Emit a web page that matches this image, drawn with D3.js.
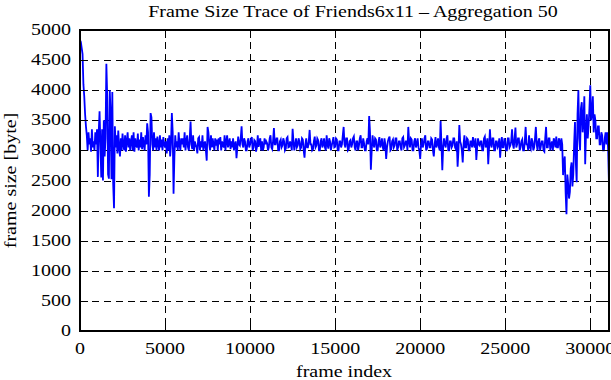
<!DOCTYPE html>
<html>
<head>
<meta charset="utf-8">
<script src="https://cdn.jsdelivr.net/npm/d3@7"></script>
<style>
  body { margin: 0; background: #fff; }
  text { font-family: "Liberation Serif", "Times New Roman", serif; fill: #000; font-size: 16px; }
</style>
</head>
<body>
<svg id="chart" width="611" height="380"></svg>
<script>
// chart text and ticks
var title = "Frame Size Trace of Friends6x11 \u2013 Aggregation 50",
    xLabel = "frame index",
    yLabel = "frame size [byte]",
    xTicks = [0, 5000, 10000, 15000, 20000, 25000, 30000],
    yTicks = [0, 500, 1000, 1500, 2000, 2500, 3000, 3500, 4000, 4500, 5000],
    xMax = 31100,
    yMax = 5000;

// frame size, one value per 50 frames, 1000 frames a row
var frameStep = 50;
var frameSize = [
    4830, 4800, 4700, 4600, 4100, 3900, 3600, 3400, 3250, 3000, 3300, 3100, 3200, 2980, 3350, 3050, 3150, 3000, 3300, 3100,
    3350, 2560, 3300, 3650, 3100, 2550, 3350, 2500, 3500, 2900, 3200, 4440, 3900, 2600, 2530, 4000, 3600, 2520, 3970, 2450,
    2040, 3400, 3050, 3250, 2950, 3330, 3050, 2900, 3200, 3000, 3280, 3100, 3000, 3250, 2980, 3150, 3300, 3050, 3200, 3000,
    3150, 3250, 3000, 3300, 2980, 3200, 3100, 3050, 3280, 3000, 3180, 3050, 3300, 3020, 3220, 3100, 3000, 3250, 3100, 3450,
    3300, 2230, 2600, 3620, 3550, 3100, 3000, 3300, 3050, 3200, 3000, 3230, 3100, 3000, 3250, 3050, 3180, 3000, 3220, 3100,
    3050, 3150, 2950, 3200, 3000, 3250, 2900, 3100, 3620, 3300, 2280, 2900, 3250, 3050, 3150, 3000, 3300, 3100, 3000, 3200,
    3100, 3200, 3050, 3300, 3000, 3150, 3250, 3050, 3000, 3200, 3480, 3100, 3020, 3250, 3000, 3150, 3100, 3050, 2950, 3200,
    3220, 3000, 3150, 3050, 3250, 3000, 3100, 3150, 3000, 2830, 3390, 3300, 3100, 3000, 3250, 3050, 3200, 3100, 3000, 3200,
    3080, 3180, 3000, 3200, 3100, 3220, 3000, 3150, 3100, 3050, 3250, 3000, 3150, 3250, 3050, 3120, 3200, 3020, 3150, 3050,
    3200, 3000, 3100, 3150, 2870, 3050, 3230, 3100, 3080, 3200, 3400, 3100, 3050, 3200, 3150, 3000, 3000, 3150, 3200, 3050,
    3100, 3180, 3220, 3000, 3050, 3170, 3150, 2980, 3050, 3250, 3060, 3150, 3200, 3000, 3150, 3000, 3050, 3200, 3100, 3150,
    3120, 3000, 3050, 3200, 3250, 3050, 3020, 3150, 3370, 3100, 3100, 3200, 3200, 3000, 3000, 3150, 3180, 3050, 3080, 3200,
    3150, 3000, 3030, 3200, 3220, 3050, 3060, 3150, 3100, 3000, 3360, 3150, 3000, 3100, 3200, 3050, 3080, 3200, 3150, 3020,
    3050, 3200, 3180, 3000, 2880, 3100, 3200, 3050, 3050, 3150, 3340, 3100, 3100, 3000, 3020, 3150, 3230, 3050, 3080, 3200,
    3170, 3000, 3000, 3150, 3200, 3050, 3100, 3200, 3050, 3000, 3250, 3100, 3030, 3200, 3150, 3000, 3080, 3150, 3220, 3050,
    3060, 3200, 3180, 3000, 3000, 3150, 3150, 3050, 3100, 3250, 3390, 3100, 3050, 3200, 3200, 3000, 3020, 3150, 3170, 3050,
    3100, 3200, 3230, 3050, 3000, 3150, 3150, 3000, 3080, 3200, 3250, 3050, 3050, 3200, 3120, 3000, 3000, 3150, 3200, 3100,
    3570, 3300, 2680, 3000, 3250, 3100, 3050, 3200, 3180, 3000, 3000, 3150, 3220, 3050, 3100, 3200, 3050, 3000, 3200, 3100,
    2860, 3050, 3150, 3200, 3230, 3000, 3020, 3150, 3180, 3050, 3080, 3200, 3200, 3000, 3050, 3150, 3150, 3050, 3000, 3200,
    3220, 3050, 3080, 3150, 3150, 3000, 3390, 3150, 3050, 3200, 3180, 3000, 3000, 3150, 3200, 3050, 3100, 3200, 3050, 3000,
    2860, 3100, 3200, 3050, 3100, 3200, 3250, 3000, 3030, 3150, 3150, 3050, 3050, 3200, 3180, 3000, 2900, 3100, 3220, 3050,
    3100, 3200, 3050, 3000, 3490, 3100, 2670, 3050, 3200, 3100, 3050, 3200, 3250, 3000, 3000, 3150, 3150, 3050, 3080, 3200,
    3200, 3050, 3020, 3150, 2730, 3000, 3420, 3150, 3100, 3000, 2800, 3100, 3250, 3050, 3050, 3200, 3180, 3000, 3000, 3150,
    3150, 3050, 3220, 3100, 3050, 3200, 2840, 3050, 3200, 3100, 3080, 3150, 3150, 3000, 3000, 3200, 3230, 3050, 3100, 3200,
    2770, 3050, 3350, 3100, 3050, 3200, 3200, 3000, 3000, 3150, 3150, 3050, 3080, 3200, 2880, 3100, 3220, 3050, 3050, 3200,
    3150, 3000, 3000, 3200, 3200, 3050, 3080, 3150, 3350, 3100, 3030, 3200, 3380, 3050, 3100, 3200, 3200, 3000, 3050, 3150,
    3180, 3000, 3000, 3150, 3390, 3100, 3100, 3000, 3250, 3050, 3020, 3200, 3150, 3000, 3050, 3200, 3390, 3100, 3000, 3150,
    3200, 3000, 3080, 3150, 3150, 3000, 2980, 3200, 3390, 3050, 3050, 3200, 3200, 3000, 3100, 3150, 3000, 3200, 3150, 3050,
    3230, 3050, 3050, 3200, 3150, 3000, 3200, 3100, 2590, 2800, 2900, 2300, 1940, 2600, 2450, 2200, 2310, 2700, 2800, 2400,
    2600, 3100, 3470, 2800, 2470, 3600, 4000, 3200, 3000, 3700, 3800, 3300, 3500, 3900, 2770, 3300, 3600, 3200, 3400, 3700,
    4080, 3500, 3600, 3900, 3300, 3600, 3500, 3200, 3200, 3400, 3400, 3100, 3100, 3300, 3250, 3000, 3000, 3200, 3300, 3100,
    3300, 3000, 2420
];

var svg = d3.select("#chart"),
    plotLeft = 80, plotRight = 609, plotTop = 30, plotBottom = 331,
    tickLen = 8,
    stretch = 1.25;   // the reference type is set wide

var x = d3.scaleLinear().domain([0, xMax]).range([plotLeft, plotRight]),
    y = d3.scaleLinear().domain([0, yMax]).range([plotBottom, plotTop]);

// grid
var grid = svg.append("g")
    .attr("stroke", "#000")
    .attr("stroke-width", 1)
    .attr("stroke-dasharray", "7,5");
grid.selectAll(".gx")
    .data(xTicks.filter(function(t) { return t > 0; }))
    .enter().append("line")
    .attr("x1", function(d) { return Math.round(x(d)) + 0.5; })
    .attr("x2", function(d) { return Math.round(x(d)) + 0.5; })
    .attr("y1", plotTop).attr("y2", plotBottom);
grid.selectAll(".gy")
    .data(yTicks.filter(function(t) { return t > 0 && t < yMax; }))
    .enter().append("line")
    .attr("y1", function(d) { return Math.round(y(d)) + 0.5; })
    .attr("y2", function(d) { return Math.round(y(d)) + 0.5; })
    .attr("x1", plotLeft).attr("x2", plotRight);

// the trace
svg.append("clipPath").attr("id", "plot-clip")
    .append("rect")
    .attr("x", plotLeft).attr("y", plotTop)
    .attr("width", plotRight - plotLeft).attr("height", plotBottom - plotTop);

var line = d3.line()
    .x(function(d, i) { return x(i * frameStep); })
    .y(function(d) { return y(d); });

svg.append("path")
    .datum(frameSize)
    .attr("clip-path", "url(#plot-clip)")
    .attr("fill", "none")
    .attr("stroke", "#0000ff")
    .attr("stroke-width", 1.8)
    .attr("d", line);

// inward ticks on all four sides
var ticks = svg.append("g").attr("stroke", "#000").attr("stroke-width", 1);
xTicks.forEach(function(t) {
    var px = Math.round(x(t)) + 0.5;
    ticks.append("line").attr("x1", px).attr("x2", px).attr("y1", plotBottom).attr("y2", plotBottom - tickLen);
    ticks.append("line").attr("x1", px).attr("x2", px).attr("y1", plotTop).attr("y2", plotTop + tickLen);
});
yTicks.forEach(function(t) {
    var py = Math.round(y(t)) + 0.5;
    ticks.append("line").attr("y1", py).attr("y2", py).attr("x1", plotLeft).attr("x2", plotLeft + tickLen);
    ticks.append("line").attr("y1", py).attr("y2", py).attr("x1", plotRight).attr("x2", plotRight - tickLen);
});

// frame
svg.append("rect")
    .attr("x", plotLeft).attr("y", plotTop)
    .attr("width", plotRight - plotLeft).attr("height", plotBottom - plotTop)
    .attr("fill", "none")
    .attr("stroke", "#000")
    .attr("stroke-width", 2);

// wide text: place at (tx,ty), optionally rotated, then stretch along the baseline
function wideText(tx, ty, anchor, str, rot) {
    return svg.append("text")
        .attr("transform", "translate(" + tx + "," + ty + ")" +
              (rot ? " rotate(" + rot + ")" : "") +
              " scale(" + stretch + ",1)")
        .attr("text-anchor", anchor)
        .text(str);
}

// tick labels
xTicks.forEach(function(t) { wideText(x(t), plotBottom + 23, "middle", t); });
yTicks.forEach(function(t) { wideText(plotLeft - 9, y(t) + 5, "end", t); });

// titles
wideText(353, 17, "middle", title);
wideText(344, 377, "middle", xLabel);
wideText(16, (plotTop + plotBottom) / 2, "middle", yLabel, -90);
</script>
</body>
</html>
